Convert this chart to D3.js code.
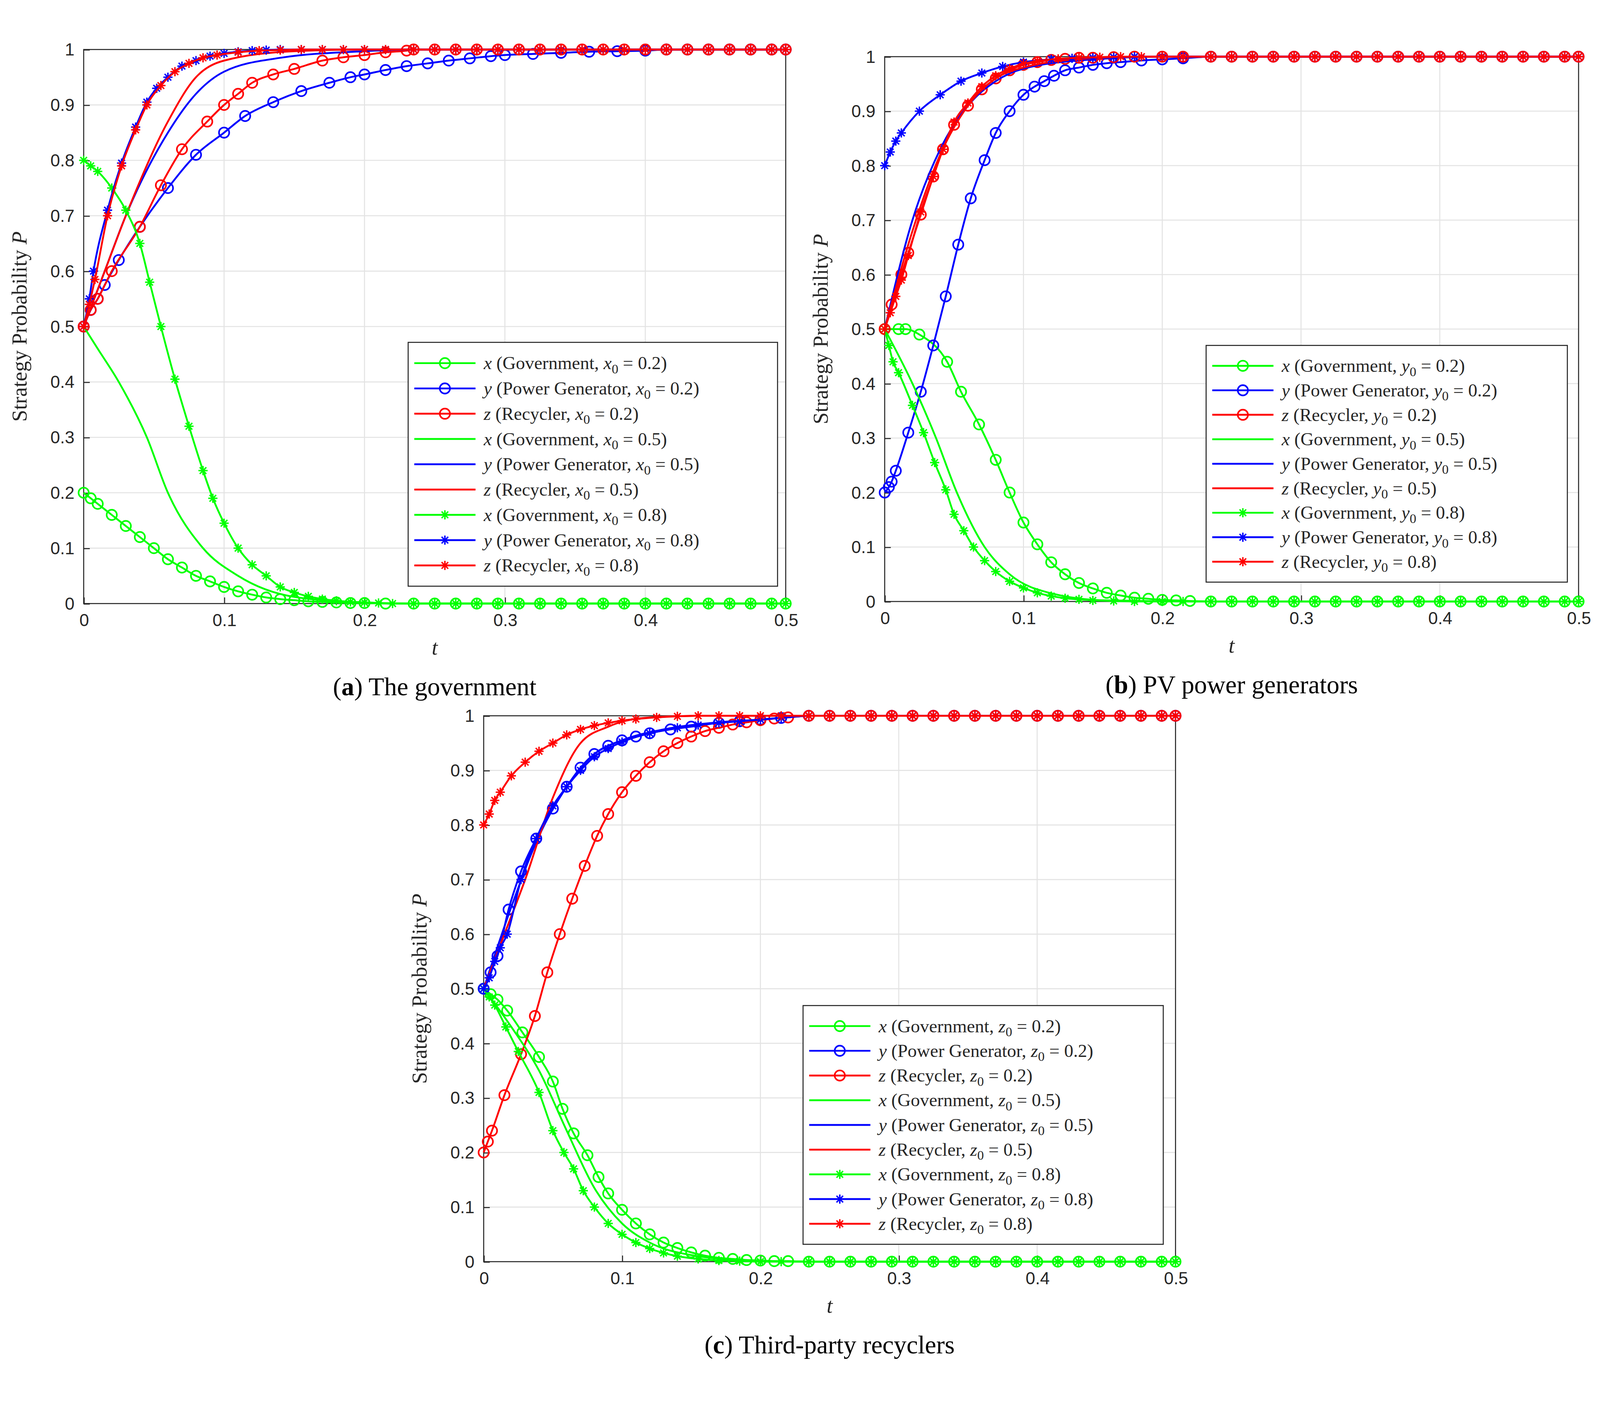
<!DOCTYPE html>
<html lang="en">
<head>
<meta charset="UTF-8" />
<title>Strategy probability evolution</title>
<style>
  html, body { margin: 0; padding: 0; background: #fff; overflow: hidden; }
  svg { display: block; width: 100vw; height: 100vh; }
  .tick text { font-family: "Liberation Sans", Arial, sans-serif; }
</style>
</head>
<body>
<svg id="chart"></svg>
<script src="https://d3js.org/d3.v7.min.js"></script>
<script>
// ---- data: [t, P] pairs ----
const xTicks = [0, 0.1, 0.2, 0.3, 0.4, 0.5];
const yTicks = [0, 0.1, 0.2, 0.3, 0.4, 0.5, 0.6, 0.7, 0.8, 0.9, 1];
const tailT = [0.235, 0.25, 0.265, 0.28, 0.295, 0.31, 0.325, 0.34, 0.355, 0.37, 0.385, 0.4, 0.415, 0.43, 0.445, 0.46, 0.475, 0.49, 0.5];
const tail0 = tailT.map(t => [t, 0]);
const tail1 = tailT.map(t => [t, 1]);
const tail1late = tailT.filter(t => t > 0.4).map(t => [t, 1]);

// (a) government x0 varied
const aX02 = [[0,0.2],[0.005,0.19],[0.01,0.18],[0.02,0.16],[0.03,0.14],[0.04,0.12],[0.05,0.1],[0.06,0.08],[0.07,0.065],[0.08,0.05],[0.09,0.04],[0.1,0.03],[0.11,0.022],[0.12,0.016],[0.13,0.011],[0.14,0.008],[0.15,0.006],[0.16,0.004],[0.17,0.003],[0.18,0.002],[0.19,0.001],[0.2,0.001],[0.215,0]].concat(tail0);
const aY02 = [[0,0.5],[0.005,0.53],[0.01,0.55],[0.015,0.575],[0.025,0.62],[0.04,0.68],[0.06,0.75],[0.08,0.81],[0.1,0.85],[0.115,0.88],[0.135,0.905],[0.155,0.925],[0.175,0.94],[0.19,0.95],[0.2,0.955],[0.215,0.963],[0.23,0.97],[0.245,0.975],[0.26,0.98],[0.275,0.984],[0.29,0.988],[0.3,0.99],[0.32,0.992],[0.34,0.994],[0.36,0.996],[0.38,0.997],[0.4,0.998]].concat(tail1late);
const aZ02 = [[0,0.5],[0.005,0.53],[0.01,0.55],[0.02,0.6],[0.04,0.68],[0.055,0.755],[0.07,0.82],[0.088,0.87],[0.1,0.9],[0.11,0.92],[0.12,0.94],[0.135,0.955],[0.15,0.965],[0.17,0.98],[0.185,0.986],[0.2,0.99],[0.215,0.995],[0.23,0.998]].concat(tail1);
const aX05 = [[0,0.5],[0.01,0.46],[0.025,0.4],[0.045,0.3],[0.06,0.2],[0.085,0.1],[0.11,0.05],[0.15,0.012],[0.2,0.002]].concat(tail0);
const aY05 = [[0,0.5],[0.015,0.6],[0.03,0.7],[0.06,0.85],[0.08,0.92],[0.1,0.96],[0.14,0.985],[0.2,0.997]].concat(tail1);
const aZ05 = [[0,0.5],[0.015,0.6],[0.03,0.7],[0.06,0.87],[0.08,0.95],[0.1,0.98],[0.15,0.997],[0.2,1]].concat(tail1);
const aX08 = [[0,0.8],[0.005,0.79],[0.01,0.78],[0.02,0.75],[0.03,0.71],[0.04,0.65],[0.047,0.58],[0.055,0.5],[0.065,0.405],[0.075,0.32],[0.085,0.24],[0.092,0.19],[0.1,0.145],[0.11,0.1],[0.12,0.07],[0.13,0.05],[0.14,0.03],[0.15,0.02],[0.16,0.013],[0.17,0.008],[0.18,0.005],[0.19,0.003],[0.2,0.002],[0.21,0.001],[0.22,0]].concat(tail0);
const aY08 = [[0,0.5],[0.004,0.55],[0.007,0.6],[0.017,0.71],[0.027,0.795],[0.037,0.86],[0.045,0.905],[0.052,0.93],[0.06,0.95],[0.07,0.97],[0.08,0.98],[0.09,0.988],[0.1,0.993],[0.11,0.996],[0.12,0.998],[0.13,0.999],[0.14,1],[0.155,1],[0.17,1],[0.185,1],[0.2,1],[0.215,1]].concat(tail1);
const aZ08 = [[0,0.5],[0.004,0.54],[0.008,0.585],[0.017,0.7],[0.027,0.79],[0.037,0.855],[0.045,0.9],[0.055,0.935],[0.065,0.96],[0.075,0.975],[0.085,0.985],[0.095,0.99],[0.11,0.995],[0.125,0.998],[0.14,0.999],[0.155,1],[0.17,1],[0.185,1],[0.2,1],[0.215,1]].concat(tail1);

// (b) PV power generators y0 varied
const bX02 = [[0,0.5],[0.01,0.5],[0.015,0.5],[0.025,0.49],[0.045,0.44],[0.055,0.385],[0.068,0.325],[0.08,0.26],[0.09,0.2],[0.1,0.145],[0.11,0.105],[0.12,0.072],[0.13,0.05],[0.14,0.034],[0.15,0.024],[0.16,0.016],[0.17,0.011],[0.18,0.007],[0.19,0.005],[0.2,0.003],[0.21,0.002],[0.22,0.001]].concat(tail0);
const bY02 = [[0,0.2],[0.003,0.21],[0.005,0.22],[0.008,0.24],[0.017,0.31],[0.026,0.385],[0.035,0.47],[0.044,0.56],[0.053,0.655],[0.062,0.74],[0.072,0.81],[0.08,0.86],[0.09,0.9],[0.1,0.93],[0.108,0.945],[0.115,0.955],[0.122,0.965],[0.13,0.975],[0.14,0.98],[0.15,0.985],[0.16,0.988],[0.17,0.99],[0.185,0.993],[0.2,0.995],[0.215,0.997]].concat(tail1);
const bZ02 = [[0,0.5],[0.005,0.545],[0.012,0.6],[0.017,0.64],[0.026,0.71],[0.035,0.78],[0.042,0.83],[0.05,0.875],[0.06,0.91],[0.07,0.94],[0.08,0.96],[0.09,0.975],[0.1,0.985],[0.11,0.99],[0.12,0.994],[0.13,0.996],[0.14,0.998],[0.15,0.998],[0.165,0.999],[0.18,1],[0.2,1],[0.215,1]].concat(tail1);
const bX05 = [[0,0.5],[0.02,0.4],[0.037,0.3],[0.052,0.2],[0.072,0.1],[0.09,0.05],[0.12,0.015],[0.16,0.002]].concat(tail0);
const bY05 = [[0,0.5],[0.02,0.7],[0.04,0.83],[0.06,0.91],[0.08,0.955],[0.1,0.978],[0.15,0.995],[0.2,1]].concat(tail1);
const bZ05 = [[0,0.5],[0.02,0.68],[0.04,0.82],[0.06,0.91],[0.08,0.96],[0.1,0.98],[0.15,0.997],[0.2,1]].concat(tail1);
const bX08 = [[0,0.5],[0.003,0.47],[0.006,0.44],[0.01,0.42],[0.02,0.36],[0.028,0.31],[0.036,0.255],[0.044,0.205],[0.05,0.16],[0.057,0.13],[0.064,0.1],[0.072,0.075],[0.08,0.055],[0.09,0.037],[0.1,0.025],[0.11,0.016],[0.12,0.01],[0.13,0.006],[0.14,0.004],[0.15,0.002],[0.165,0.001],[0.18,0],[0.2,0],[0.215,0]].concat(tail0);
const bY08 = [[0,0.8],[0.004,0.825],[0.008,0.845],[0.012,0.86],[0.025,0.9],[0.04,0.93],[0.055,0.955],[0.07,0.97],[0.085,0.982],[0.1,0.99],[0.12,0.995],[0.135,0.997],[0.15,0.998],[0.165,0.999],[0.18,1],[0.2,1],[0.215,1]].concat(tail1);
const bZ08 = [[0,0.5],[0.004,0.53],[0.008,0.56],[0.012,0.59],[0.017,0.635],[0.026,0.715],[0.035,0.78],[0.042,0.83],[0.05,0.88],[0.06,0.915],[0.07,0.945],[0.08,0.965],[0.09,0.978],[0.1,0.987],[0.11,0.992],[0.125,0.996],[0.14,0.998],[0.155,0.999],[0.17,1],[0.185,1],[0.2,1],[0.215,1]].concat(tail1);

// (c) third-party recyclers z0 varied
const cX02 = [[0,0.5],[0.005,0.49],[0.01,0.48],[0.017,0.46],[0.028,0.42],[0.04,0.375],[0.05,0.33],[0.057,0.28],[0.065,0.235],[0.075,0.195],[0.083,0.155],[0.09,0.125],[0.1,0.095],[0.11,0.07],[0.12,0.05],[0.13,0.035],[0.14,0.025],[0.15,0.017],[0.16,0.011],[0.17,0.007],[0.18,0.005],[0.19,0.003],[0.2,0.002],[0.21,0.001],[0.22,0.001]].concat(tail0);
const cY02 = [[0,0.5],[0.005,0.53],[0.01,0.56],[0.018,0.645],[0.027,0.715],[0.038,0.775],[0.05,0.83],[0.06,0.87],[0.07,0.905],[0.08,0.93],[0.09,0.945],[0.1,0.955],[0.11,0.962],[0.12,0.968],[0.135,0.975],[0.15,0.98],[0.17,0.987],[0.185,0.99],[0.2,0.993],[0.215,0.996]].concat(tail1);
const cZ02 = [[0,0.2],[0.003,0.22],[0.006,0.24],[0.015,0.305],[0.027,0.38],[0.037,0.45],[0.046,0.53],[0.055,0.6],[0.064,0.665],[0.073,0.725],[0.082,0.78],[0.09,0.82],[0.1,0.86],[0.11,0.89],[0.12,0.915],[0.13,0.935],[0.14,0.95],[0.15,0.962],[0.16,0.972],[0.17,0.978],[0.18,0.984],[0.19,0.988],[0.2,0.992],[0.21,0.995],[0.22,0.997]].concat(tail1);
const cX05 = [[0,0.5],[0.02,0.43],[0.04,0.35],[0.06,0.24],[0.08,0.135],[0.1,0.07],[0.12,0.035],[0.15,0.012],[0.2,0.001]].concat(tail0);
const cY05 = [[0,0.5],[0.02,0.65],[0.04,0.78],[0.06,0.87],[0.08,0.93],[0.1,0.955],[0.13,0.975],[0.17,0.988],[0.2,0.993]].concat(tail1);
const cZ05 = [[0,0.5],[0.015,0.6],[0.03,0.7],[0.05,0.85],[0.07,0.95],[0.09,0.98],[0.12,0.997],[0.16,1],[0.2,1]].concat(tail1);
const cX08 = [[0,0.5],[0.004,0.485],[0.008,0.47],[0.016,0.43],[0.025,0.385],[0.04,0.31],[0.05,0.24],[0.058,0.2],[0.065,0.17],[0.072,0.13],[0.08,0.1],[0.09,0.07],[0.1,0.05],[0.11,0.035],[0.12,0.024],[0.13,0.016],[0.14,0.01],[0.155,0.005],[0.17,0.002],[0.185,0.001],[0.2,0],[0.215,0]].concat(tail0);
const cY08 = [[0,0.5],[0.004,0.52],[0.008,0.55],[0.012,0.575],[0.017,0.6],[0.027,0.7],[0.038,0.775],[0.05,0.835],[0.06,0.87],[0.07,0.9],[0.08,0.925],[0.09,0.94],[0.1,0.952],[0.12,0.968],[0.14,0.978],[0.155,0.983],[0.17,0.987],[0.185,0.99],[0.2,0.993],[0.215,0.996]].concat(tail1);
const cZ08 = [[0,0.8],[0.004,0.82],[0.008,0.845],[0.012,0.86],[0.02,0.89],[0.03,0.915],[0.04,0.935],[0.05,0.95],[0.06,0.965],[0.07,0.975],[0.08,0.982],[0.09,0.987],[0.1,0.991],[0.11,0.994],[0.125,0.997],[0.14,0.999],[0.155,1],[0.17,1],[0.185,1],[0.2,1],[0.215,1]].concat(tail1);

const roles = ["Government", "Power Generator", "Recycler"];
const initVals = ["0.2", "0.5", "0.8"];
const markerKinds = ["circle", "none", "star"];
const colors = ["#00ff00", "#0000ff", "#ff0000"];
const vars = ["x", "y", "z"];

// layout in a 1568x1316 frame, scaled up by viewBox
const W = 1568, H = 1316;
const svg = d3.select("#chart")
  .attr("viewBox", `0 0 ${W} ${H}`)
  .attr("preserveAspectRatio", "xMidYMid meet");
svg.append("rect").attr("width", W).attr("height", H).attr("fill", "#fff");

const panels = [
  { letter: "a", caption: "The government", sub: "x",
    box: { l: 82, r: 770, t: 19, b: 562 }, legend: { x: 400, y: 306, w: 362, h: 239 },
    data: [[aX02, aY02, aZ02], [aX05, aY05, aZ05], [aX08, aY08, aZ08]] },
  { letter: "b", caption: "PV power generators", sub: "y",
    box: { l: 867, r: 1547, t: 26, b: 560 }, legend: { x: 1182, y: 309, w: 354, h: 232 },
    data: [[bX02, bY02, bZ02], [bX05, bY05, bZ05], [bX08, bY08, bZ08]] },
  { letter: "c", caption: "Third-party recyclers", sub: "z",
    box: { l: 474, r: 1152, t: 672, b: 1207 }, legend: { x: 787, y: 956, w: 353, h: 234 },
    data: [[cX02, cY02, cZ02], [cX05, cY05, cZ05], [cX08, cY08, cZ08]] }
];

const serif = "'Liberation Serif', 'DejaVu Serif', serif";

function drawMarker(g, kind, x, y, color) {
  if (kind === "circle") {
    g.append("circle").attr("cx", x).attr("cy", y).attr("r", 5)
      .attr("fill", "none").attr("stroke", color).attr("stroke-width", 1.6);
  } else if (kind === "star") {
    const s = 4.5, d = s * 0.72;
    const segs = [[-s, 0, s, 0], [0, -s, 0, s], [-d, -d, d, d], [-d, d, d, -d]];
    segs.forEach(q => g.append("line")
      .attr("x1", x + q[0]).attr("y1", y + q[1]).attr("x2", x + q[2]).attr("y2", y + q[3])
      .attr("stroke", color).attr("stroke-width", 1.4));
  }
}

function legendLabel(text, v, role, sub, init) {
  text.append("tspan").attr("font-style", "italic").text(v);
  text.append("tspan").text(` (${role}, `);
  text.append("tspan").attr("font-style", "italic").text(sub);
  text.append("tspan").attr("font-size", 13).attr("dy", 4).text("0");
  text.append("tspan").attr("dy", -4).text(` = ${init})`);
}

panels.forEach(p => {
  const { l, r, t, b } = p.box;
  const x = d3.scaleLinear().domain([0, 0.5]).range([l, r]);
  const y = d3.scaleLinear().domain([0, 1]).range([b, t]);
  const g = svg.append("g");

  // grid
  g.append("g").selectAll("line").data(xTicks.slice(1, -1)).join("line")
    .attr("x1", d => x(d)).attr("x2", d => x(d)).attr("y1", t).attr("y2", b)
    .attr("stroke", "#e3e3e3").attr("stroke-width", 1);
  g.append("g").selectAll("line").data(yTicks.slice(1, -1)).join("line")
    .attr("y1", d => y(d)).attr("y2", d => y(d)).attr("x1", l).attr("x2", r)
    .attr("stroke", "#e3e3e3").attr("stroke-width", 1);

  // axes
  const ax = g.append("g").attr("transform", `translate(0,${b})`)
    .call(d3.axisBottom(x).tickValues(xTicks).tickFormat(d3.format("~g")).tickSizeInner(-6).tickSizeOuter(0).tickPadding(10));
  const ay = g.append("g").attr("transform", `translate(${l},0)`)
    .call(d3.axisLeft(y).tickValues(yTicks).tickFormat(d3.format("~g")).tickSizeInner(-6).tickSizeOuter(0).tickPadding(9));
  [ax, ay].forEach(a => {
    a.select(".domain").remove();
    a.selectAll(".tick line").attr("stroke", "#262626");
    a.selectAll(".tick text").attr("font-size", 17).attr("fill", "#262626");
  });
  g.append("rect").attr("x", l).attr("y", t).attr("width", r - l).attr("height", b - t)
    .attr("fill", "none").attr("stroke", "#262626").attr("stroke-width", 1);

  // series
  const line = d3.line().x(d => x(d[0])).y(d => y(d[1])).curve(d3.curveMonotoneX);
  p.data.forEach((group, gi) => {
    group.forEach((series, si) => {
      const c = colors[si];
      g.append("path").datum(series).attr("d", line)
        .attr("fill", "none").attr("stroke", c).attr("stroke-width", 1.8);
      const mg = g.append("g");
      series.forEach(d => drawMarker(mg, markerKinds[gi], x(d[0]), y(d[1]), c));
    });
  });

  // legend
  const L = p.legend;
  const lg = g.append("g");
  lg.append("rect").attr("x", L.x).attr("y", L.y).attr("width", L.w).attr("height", L.h)
    .attr("fill", "#fff").attr("stroke", "#262626").attr("stroke-width", 1);
  const rowH = (L.h - 16) / 9;
  let k = 0;
  initVals.forEach((iv, gi) => {
    vars.forEach((v, si) => {
      const cy = L.y + 8 + rowH * (k + 0.5);
      lg.append("line").attr("x1", L.x + 6).attr("x2", L.x + 66).attr("y1", cy).attr("y2", cy)
        .attr("stroke", colors[si]).attr("stroke-width", 1.8);
      drawMarker(lg, markerKinds[gi], L.x + 36, cy, colors[si]);
      const tx = lg.append("text").attr("x", L.x + 74).attr("y", cy + 6)
        .attr("font-family", serif).attr("font-size", 18).attr("fill", "#262626");
      legendLabel(tx, v, roles[si], p.sub, iv);
      k++;
    });
  });

  // axis labels
  g.append("text").attr("x", (l + r) / 2).attr("y", b + 50).attr("text-anchor", "middle")
    .attr("font-family", serif).attr("font-style", "italic").attr("font-size", 21).attr("fill", "#262626").text("t");
  const yl = g.append("text").attr("transform", `translate(${l - 56},${(t + b) / 2}) rotate(-90)`)
    .attr("text-anchor", "middle").attr("font-family", serif).attr("font-size", 21).attr("fill", "#262626");
  yl.append("tspan").text("Strategy Probability ");
  yl.append("tspan").attr("font-style", "italic").text("P");

  // caption
  const cap = g.append("text").attr("x", (l + r) / 2).attr("y", b + 90)
    .attr("text-anchor", "middle").attr("font-family", serif).attr("font-size", 25).attr("fill", "#000");
  cap.append("tspan").text("(");
  cap.append("tspan").attr("font-weight", "bold").text(p.letter);
  cap.append("tspan").text(") " + p.caption);
});
</script>
</body>
</html>
